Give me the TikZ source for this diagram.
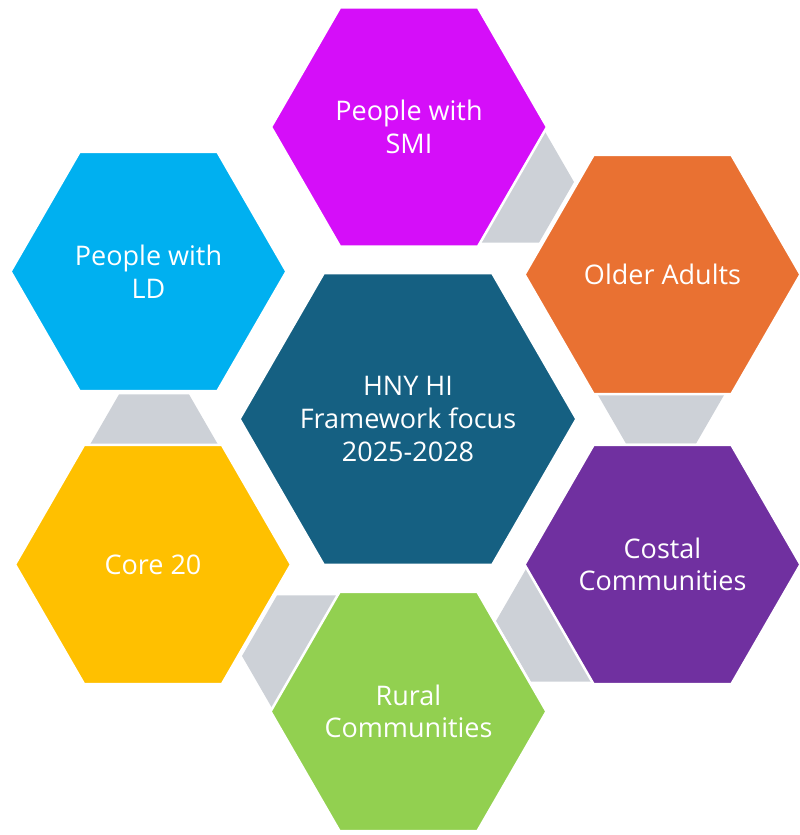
\documentclass[tikz,border=0pt]{standalone}
\usepackage{fontspec}
\setmainfont{Open Sans}
\usepackage{xcolor}
\usetikzlibrary{shapes.geometric}

\definecolor{focusteal}{HTML}{156082}
\definecolor{smimagenta}{HTML}{D50EF9}
\definecolor{olderorange}{HTML}{E97132}
\definecolor{costalpurple}{HTML}{7030A0}
\definecolor{ruralgreen}{HTML}{92D050}
\definecolor{coregold}{HTML}{FFC000}
\definecolor{ldblue}{HTML}{00B0F0}
\definecolor{linkgray}{HTML}{CDD1D7}

\tikzset{
    hexbox/.style={regular polygon, regular polygon sides=6, minimum size=276,
        inner sep=0pt, draw=white, line width=2.5pt, text=white, align=center,
        font=\fontsize{27}{32.6}\selectfont},
    linkhex/.style={regular polygon, regular polygon sides=6, minimum size=140,
        inner sep=0pt, fill=linkgray},
}

\begin{document}
\begin{tikzpicture}[x=1pt, y=-1pt]
    \useasboundingbox (0,0) rectangle (800,835);

    % grey links sit behind the ring
    \node[linkhex] (link1) at (504,182) {};
    \node[linkhex] (link2) at (661,383) {};
    \node[linkhex] (link3) at (566,621) {};
    \node[linkhex] (link4) at (312,656) {};
    \node[linkhex] (link5) at (154,455) {};

    % outer ring
    \node[hexbox, fill=smimagenta] (smi) at (409,127) {People with\\SMI};
    \node[hexbox, fill=olderorange] (older) at (662.5,274.5) {Older Adults};
    \node[hexbox, fill=costalpurple] (costal) at (662.5,564.5) {Costal\\Communities};
    \node[hexbox, fill=ruralgreen] (rural) at (408.5,711.5) {Rural\\Communities};
    \node[hexbox, fill=coregold] (core) at (153,564.5) {Core 20};
    \node[hexbox, fill=ldblue] (ld) at (148.5,271.5) {People with\\LD};

    % centre (negative inner sep keeps the text from growing the shape)
    \node[hexbox, fill=focusteal, minimum size=337, inner sep=-12pt] (focus)
      at (408,419) {HNY HI\\Framework focus\\2025-2028};
\end{tikzpicture}
\end{document}
